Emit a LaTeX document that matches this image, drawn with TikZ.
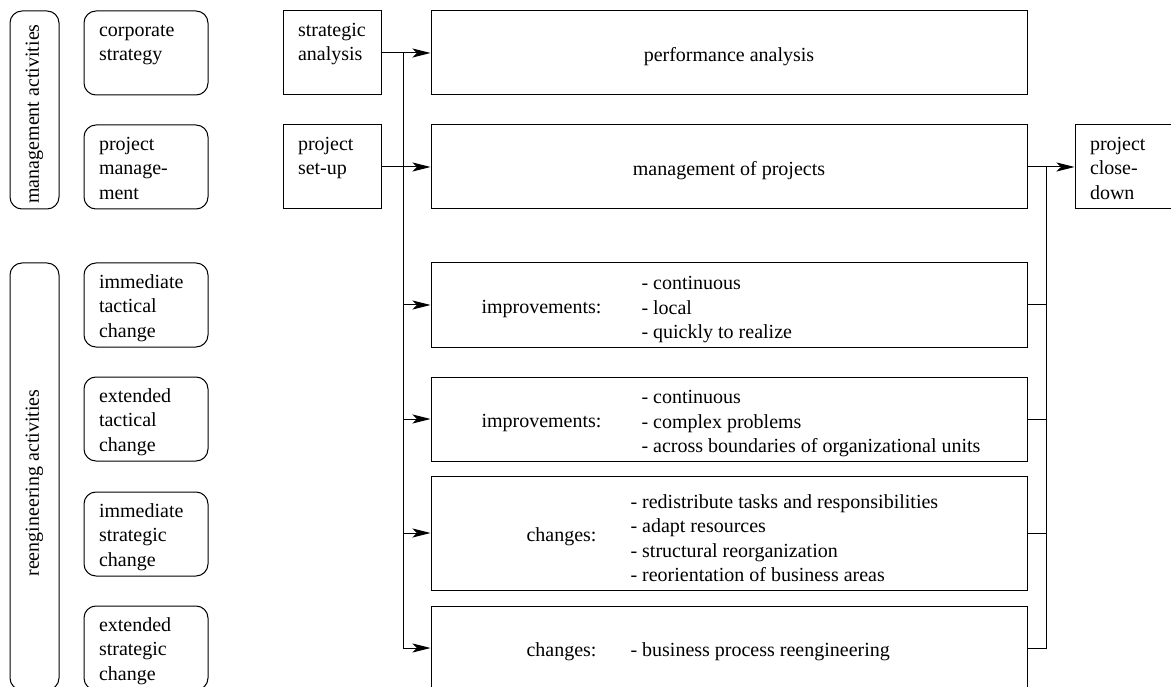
\documentclass[tikz,border=0pt]{standalone}
\usepackage{fontspec}
\setmainfont{Liberation Serif}
\usetikzlibrary{arrows.meta,calc}
\begin{document}
\begin{tikzpicture}[x=1pt,y=-1pt,line width=1pt,
  every node/.style={font=\fontsize{20}{24.5}\selectfont},
  side/.style={draw, rounded corners=12pt, minimum width=49pt, inner sep=0pt},
  rbox/.style={draw, rounded corners=12pt, minimum width=124pt, minimum height=84pt, inner sep=0pt},
  sbox/.style={draw, minimum width=98pt, minimum height=84pt, inner sep=0pt},
  mbox/.style={draw, minimum width=596pt, minimum height=#1, inner sep=0pt},
  mbox/.default=84pt,
  txt/.style={anchor=north west, inner sep=0pt, align=left},
  lbl/.style={anchor=west, inner sep=0pt},
  lst/.style={anchor=west, inner sep=0pt, align=left},
  arr/.style={-{Stealth[length=18pt,width=9pt,inset=4.5pt]}}]
\clip (0,0) rectangle (1171,687);
% side labels
\node[side, minimum height=198pt] (ma) at (34.5,110) {};
\node[rotate=90, inner sep=0pt] (mat) at (34.5,114) {management activities};
\node[side, minimum height=427pt] (ra) at (34.5,476.5) {};
\node[rotate=90, inner sep=0pt] (rat) at (34.5,483) {reengineering activities};
% rounded boxes
\node[rbox] (cs) at (146,53) {};
\node[txt] (cst) at ($(cs.north west)+(15,8)$) {\strut corporate\\strategy};
\node[rbox] (pm) at (146,167) {};
\node[txt] (pmt) at ($(pm.north west)+(15,8)$) {\strut project\\manage-\\ment};
\node[rbox] (itc) at (146,305) {};
\node[txt] (itct) at ($(itc.north west)+(15,8)$) {\strut immediate\\tactical\\change};
\node[rbox] (etc) at (146,419) {};
\node[txt] (etct) at ($(etc.north west)+(15,8)$) {\strut extended\\tactical\\change};
\node[rbox] (isc) at (146,534) {};
\node[txt] (isct) at ($(isc.north west)+(15,8)$) {\strut immediate\\strategic\\change};
\node[rbox] (esc) at (146,648) {};
\node[txt] (esct) at ($(esc.north west)+(15,8)$) {\strut extended\\strategic\\change};
% square boxes
\node[sbox] (sa) at (332,53) {};
\node[txt] (sat) at ($(sa.north west)+(15,8)$) {\strut strategic\\analysis};
\node[sbox] (ps) at (332,167) {};
\node[txt] (pst) at ($(ps.north west)+(15,8)$) {\strut project\\set-up};
\node[draw, minimum width=110pt, minimum height=84pt, inner sep=0pt] (pc) at (1130,167) {};
\node[txt] (pct) at ($(pc.north west)+(15,8)$) {\strut project\\close-\\down};
% main boxes
\node[mbox] (pa) at (729,53) {};
\node[inner sep=0pt] (pat) at (729,57) {performance analysis};
\node[mbox] (mp) at (729,167) {};
\node[inner sep=0pt] (mpt) at (729,171) {management of projects};
\node[mbox] (im1) at (729,305) {};
\node[lbl] (im1l) at (481,309) {improvements:};
\node[lst] (im1t) at (641,310) {- continuous\\- local\\- quickly to realize};
\node[mbox] (im2) at (729,419) {};
\node[lbl] (im2l) at (481,423) {improvements:};
\node[lst] (im2t) at (641,424) {- continuous\\- complex problems\\- across boundaries of organizational units};
\node[mbox=114pt] (ch1) at (729,533) {};
\node[lbl] (ch1l) at (526,537) {changes:};
\node[lst] (ch1t) at (630,538) {- redistribute tasks and responsibilities\\- adapt resources\\- structural reorganization\\- reorientation of business areas};
\node[mbox] (ch2) at (729,648) {};
\node[lbl] (ch2l) at (526,652) {changes:};
\node[lst] (ch2t) at (630,652) {- business process reengineering};
% connectors
\coordinate (tl) at (403,53);
\coordinate (tr) at (1046,167);
\draw[arr] (sa) -- (pa);
\draw[arr] (ps) -- (mp);
\draw[arr] (mp) -- (pc);
\draw[arr] (tl) |- (im1.west);
\draw[arr] (tl) |- (im2.west);
\draw[arr] (tl) |- (ch1.west);
\draw[arr] (tl) |- (ch2.west);
\draw (im1.east) -| (tr);
\draw (im2.east) -| (tr);
\draw (ch1.east) -| (tr);
\draw (ch2.east) -| (tr);
\end{tikzpicture}
\end{document}
